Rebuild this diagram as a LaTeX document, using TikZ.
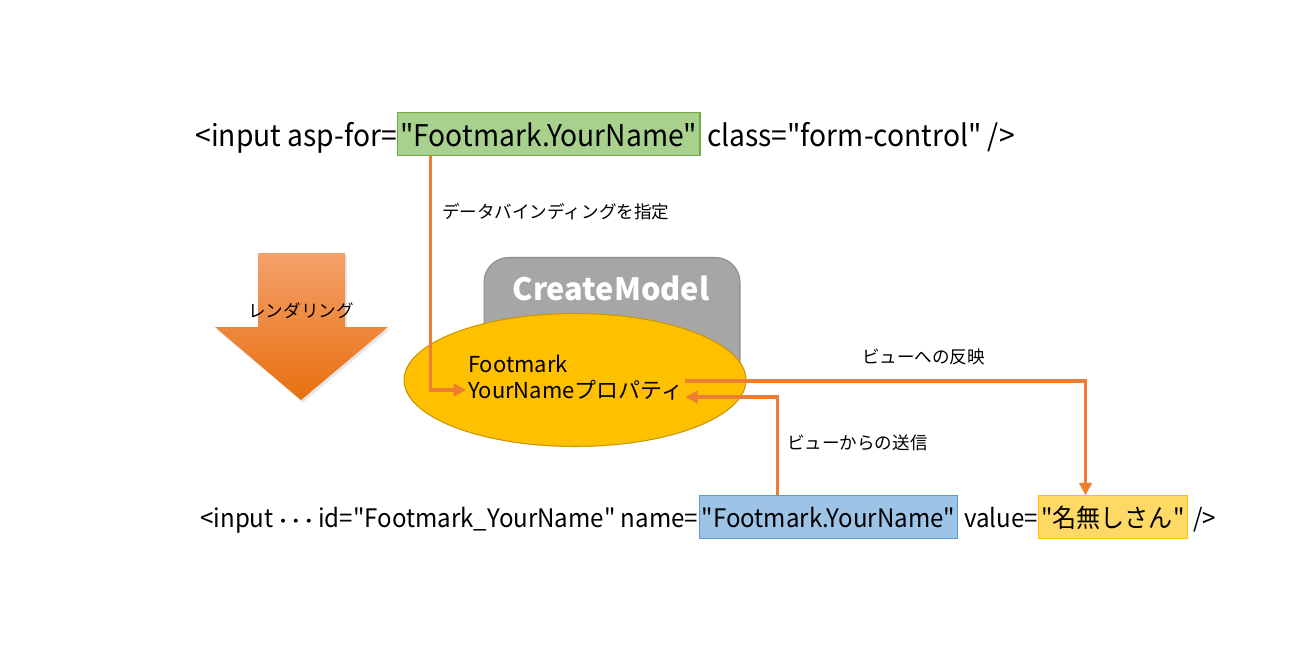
\documentclass[tikz,border=0pt]{standalone}
\usepackage{fontspec}
\setmainfont{Noto Sans CJK JP}
\newfontfamily\codefont[FakeStretch=0.945]{Noto Sans CJK JP}
\usetikzlibrary{positioning,arrows.meta,shadows,shapes.geometric}
\definecolor{flowline}{HTML}{ED7D31}
\definecolor{bindfill}{HTML}{A9D18E}
\definecolor{binddraw}{HTML}{70AD47}
\definecolor{sendfill}{HTML}{9DC3E6}
\definecolor{senddraw}{HTML}{5B9BD5}
\definecolor{showfill}{HTML}{FFD966}
\definecolor{showdraw}{HTML}{FFC000}
\definecolor{propfill}{HTML}{FFC000}
\definecolor{propdraw}{HTML}{C99700}
\definecolor{modelfill}{HTML}{A6A6A6}
\definecolor{modeldraw}{HTML}{8C8C8C}
\definecolor{rendtop}{HTML}{F4A06A}
\definecolor{rendbottom}{HTML}{E8700F}

\begin{document}
\begin{tikzpicture}[x=0.02cm, y=-0.02cm,
    code/.style={font=\codefont\fontsize{17}{20}\selectfont, inner sep=0pt, anchor=base west},
    smallcode/.style={code, font=\codefont\fontsize{14.5}{17}\selectfont},
    codebox/.style={inner xsep=1.5pt, minimum height=0.86cm, line width=0.6pt},
    bindbox/.style={codebox, fill=bindfill, draw=binddraw},
    sendbox/.style={codebox, fill=sendfill, draw=senddraw},
    showbox/.style={codebox, fill=showfill, draw=showdraw},
    flow/.style={draw=flowline, line width=2pt, -{Triangle[length=7pt,width=7pt]}},
    note/.style={font=\fontsize{10}{12}\selectfont, inner sep=1pt},
    proptext/.style={font=\fontsize{12.5}{14}\selectfont, inner sep=1pt, anchor=west}]

  \useasboundingbox (0,0) rectangle (1300,659);

  % rendering arrow
  \path[top color=rendtop, bottom color=rendbottom,
        drop shadow={opacity=0.2, shadow xshift=1pt, shadow yshift=-1.5pt}]
    (258,253) -- (345,253) -- (345,327) -- (388,327) -- (301,400)
    -- (215,327) -- (258,327) -- cycle;
  \node[note] (rendnote) at (301,311) {レンダリング};

  % model
  \node[draw=modeldraw, fill=modelfill, rounded corners=14pt, line width=0.6pt,
        minimum width=5.12cm, minimum height=2.9cm] (model) at (612,330) {};
  \node[font=\bfseries\fontsize{17.5}{20}\selectfont, text=white] (modeltitle) at (611,288) {CreateModel};
  \node[ellipse, draw=propdraw, fill=propfill, line width=0.6pt,
        minimum width=6.84cm, minimum height=2.66cm] (prop) at (575,380) {};
  \node[proptext] (foot) at (466,364) {Footmark};
  \node[proptext] (name) at (466,390) {YourNameプロパティ};

  % top line
  \node[code] (asp) at (195,146) {<input asp-for=};
  \node[code, bindbox] (bind) at (asp.base east) {"Footmark.YourName"};
  \node[code] (cls) at (bind.base east) {~class="form-control" />};

  % bottom line
  \node[smallcode] (inp) at (200,527) {<input {\boldmath$\cdots$} id="Footmark\_YourName" name=};
  \node[smallcode, sendbox] (send) at (inp.base east) {"Footmark.YourName"};
  \node[smallcode] (val) at (send.base east) {~value=};
  \node[smallcode, showbox] (shown) at (val.base east) {"名無しさん"};
  \node[smallcode] (close) at (shown.base east) {~/>};

  % connectors
  \draw[flow] ([xshift=19pt]bind.south west) |- (name.west);
  \draw[flow] ([yshift=5pt]name.east) -| ([xshift=27pt]shown.north west);
  \draw[flow] ([xshift=45pt]send.north west) |- ([yshift=-4pt]name.east);

  \node[note, anchor=west] (bindnote) at (440,212) {データバインディングを指定};
  \node[note, anchor=west] (reflnote) at (860,357) {ビューへの反映};
  \node[note, anchor=west] (sendnote) at (785,443) {ビューからの送信};
\end{tikzpicture}
\end{document}
